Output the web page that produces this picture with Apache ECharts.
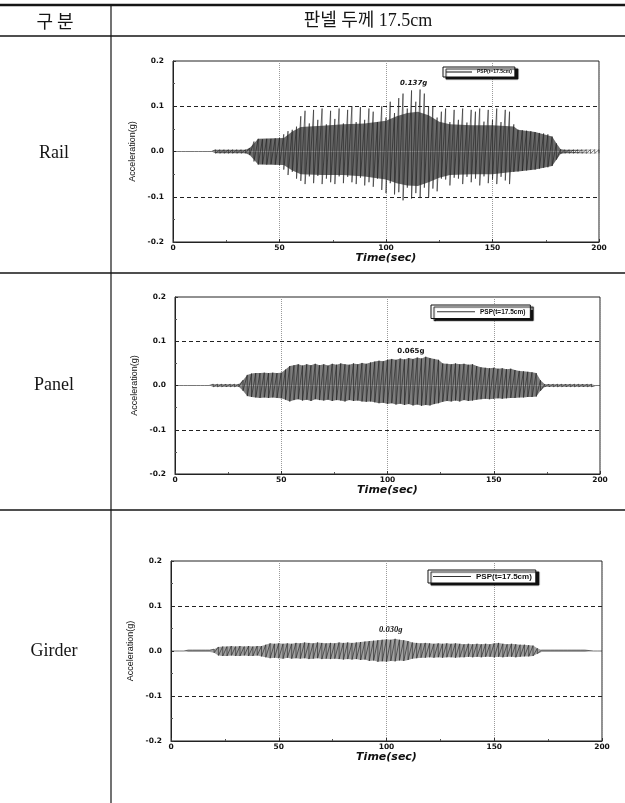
<!DOCTYPE html>
<html>
<head>
<meta charset="utf-8">
<script src="https://cdn.jsdelivr.net/npm/echarts@6/dist/echarts.min.js"></script>
<style>
  html, body { margin: 0; padding: 0; background: #fff; }
  #chart { width: 625px; height: 803px; }
</style>
</head>
<body>
<div id="chart"></div>
<script>
// table text
var headerLeft = "구 분"
var headerRight = "판넬 두께 17.5cm"
var rowNames = ["Rail", "Panel", "Girder"]
var seriesName = "PSP(t=17.5cm)"

// sample times (sec), shared by the three records
var time = [
  0, 2, 4, 6, 8, 10, 12, 14, 16, 18, 20, 22, 24, 26, 28, 30, 32, 34, 36, 38,
  40, 42, 44, 46, 48, 50, 52, 54, 56, 58, 60, 62, 64, 66, 68, 70, 72, 74, 76, 78,
  80, 82, 84, 86, 88, 90, 92, 94, 96, 98, 100, 102, 104, 106, 108, 110, 112, 114, 116, 118,
  120, 122, 124, 126, 128, 130, 132, 134, 136, 138, 140, 142, 144, 146, 148, 150, 152, 154, 156, 158,
  160, 162, 164, 166, 168, 170, 172, 174, 176, 178, 180, 182, 184, 186, 188, 190, 192, 194, 196, 198, 200
]

// peak envelope of the acceleration record (g), upper / lower at each time
var railUpper = [
  0, 0, 0, 0, 0, 0, 0, 0, 0, 0,
  0.004, 0.004, 0.004, 0.004, 0.004, 0.004, 0.004, 0.004,
  0.008, 0.022, 0.028, 0.027, 0.028, 0.028, 0.029, 0.030,
  0.038, 0.045, 0.048, 0.055, 0.078, 0.090, 0.062, 0.092, 0.070, 0.095, 0.060, 0.090, 0.072,
  0.095, 0.062, 0.092, 0.100, 0.065, 0.098, 0.070, 0.095, 0.088, 0.065, 0.100, 0.075,
  0.110, 0.085, 0.118, 0.128, 0.095, 0.135, 0.110, 0.137, 0.128, 0.100, 0.100, 0.075, 0.088, 0.095,
  0.065, 0.092, 0.070, 0.095, 0.064, 0.092, 0.088, 0.095, 0.066, 0.092, 0.070, 0.095, 0.065, 0.092, 0.088,
  0.060, 0.048, 0.047, 0.046, 0.045, 0.043, 0.041, 0.040, 0.038, 0.033, 0.018, 0.005,
  0.004, 0.004, 0.004, 0.004, 0.004, 0.004, 0.004, 0.004, 0.004
]
var railLower = [
  0, 0, 0, 0, 0, 0, 0, 0, 0, 0,
  -0.004, -0.004, -0.004, -0.004, -0.004, -0.004, -0.004, -0.004,
  -0.008, -0.022, -0.029, -0.028, -0.029, -0.028, -0.029, -0.030,
  -0.040, -0.052, -0.045, -0.060, -0.065, -0.072, -0.055, -0.070, -0.054, -0.072, -0.060, -0.068, -0.072,
  -0.055, -0.070, -0.056, -0.068, -0.072, -0.058, -0.075, -0.068, -0.078, -0.060, -0.085, -0.092,
  -0.070, -0.095, -0.090, -0.108, -0.080, -0.104, -0.092, -0.103, -0.080, -0.102, -0.082, -0.088, -0.060, -0.062,
  -0.075, -0.058, -0.060, -0.072, -0.056, -0.068, -0.060, -0.075, -0.055, -0.070, -0.062, -0.072, -0.056, -0.064, -0.072,
  -0.045, -0.044, -0.043, -0.042, -0.041, -0.040, -0.038, -0.036, -0.035, -0.032, -0.018, -0.005,
  -0.004, -0.004, -0.004, -0.004, -0.004, -0.004, -0.004, -0.004, -0.004
]
// dense body of the rail record, under the isolated spikes
var railBodyTime = [0, 18, 20, 34, 36, 40, 52, 56, 60, 70, 80, 90, 100, 105, 110, 115, 120, 125, 130, 140, 150, 160, 162, 170, 178, 180, 182, 184, 200]
var railBodyUpper = [0, 0, 0.004, 0.004, 0.008, 0.028, 0.030, 0.044, 0.054, 0.057, 0.060, 0.062, 0.068, 0.078, 0.085, 0.088, 0.080, 0.066, 0.060, 0.058, 0.058, 0.055, 0.048, 0.043, 0.033, 0.018, 0.005, 0.004, 0.004]
var railBodyLower = [0, 0, -0.004, -0.004, -0.008, -0.029, -0.030, -0.042, -0.050, -0.052, -0.052, -0.055, -0.062, -0.070, -0.075, -0.076, -0.068, -0.058, -0.052, -0.050, -0.050, -0.045, -0.044, -0.040, -0.032, -0.018, -0.005, -0.004, -0.004]

var panelUpper = [
  0, 0, 0, 0, 0, 0, 0, 0, 0,
  0.003, 0.003, 0.003, 0.003, 0.003, 0.003, 0.003,
  0.012, 0.024, 0.027, 0.028, 0.028, 0.029, 0.028, 0.029, 0.028, 0.029,
  0.036, 0.044, 0.046, 0.048, 0.045, 0.048, 0.046, 0.049, 0.046, 0.048,
  0.045, 0.049, 0.047, 0.050, 0.048, 0.047, 0.050, 0.048, 0.051, 0.049,
  0.052, 0.054, 0.056, 0.055, 0.058, 0.060, 0.058, 0.061, 0.059, 0.062,
  0.060, 0.063, 0.061, 0.065, 0.062, 0.060, 0.058, 0.050, 0.049, 0.048,
  0.050, 0.048, 0.049, 0.047, 0.048, 0.044, 0.041, 0.040, 0.039, 0.040,
  0.038, 0.039, 0.037, 0.038, 0.035, 0.033, 0.032, 0.031, 0.030, 0.028,
  0.012,
  0.003, 0.003, 0.003, 0.003, 0.003, 0.003, 0.003, 0.003, 0.003, 0.003, 0.003, 0.003,
  0, 0
]
var panelLower = [
  0, 0, 0, 0, 0, 0, 0, 0, 0,
  -0.003, -0.003, -0.003, -0.003, -0.003, -0.003, -0.003,
  -0.012, -0.024, -0.026, -0.027, -0.028, -0.027, -0.028, -0.027, -0.028, -0.029,
  -0.032, -0.036, -0.033, -0.031, -0.034, -0.032, -0.035, -0.031, -0.033, -0.034,
  -0.032, -0.035, -0.033, -0.034, -0.036, -0.033, -0.035, -0.034, -0.036, -0.037,
  -0.036, -0.038, -0.040, -0.039, -0.042, -0.040, -0.043, -0.041, -0.044, -0.042,
  -0.045, -0.043, -0.046, -0.044, -0.045, -0.042, -0.040, -0.037, -0.035, -0.036,
  -0.034, -0.036, -0.033, -0.035, -0.034, -0.032, -0.031, -0.030, -0.031, -0.030,
  -0.029, -0.030, -0.029, -0.028, -0.028, -0.027, -0.027, -0.026, -0.026, -0.025,
  -0.012,
  -0.003, -0.003, -0.003, -0.003, -0.003, -0.003, -0.003, -0.003, -0.003, -0.003, -0.003, -0.003,
  0, 0
]

var girderUpper = [
  0, 0, 0, 0,
  0.002, 0.002, 0.002, 0.002, 0.002, 0.002,
  0.004, 0.009, 0.010, 0.010, 0.011, 0.010, 0.011, 0.010, 0.011, 0.010,
  0.011, 0.011, 0.014, 0.017, 0.016, 0.017, 0.016, 0.017, 0.016, 0.018,
  0.017, 0.019, 0.018, 0.017, 0.019, 0.018, 0.017, 0.018, 0.017, 0.019,
  0.018, 0.019, 0.018, 0.019, 0.020, 0.021, 0.022, 0.023, 0.024, 0.025,
  0.026, 0.025, 0.027, 0.025, 0.024, 0.022, 0.019, 0.018, 0.017, 0.018,
  0.017, 0.016, 0.017, 0.016, 0.017, 0.016, 0.017, 0.016, 0.015, 0.016,
  0.015, 0.016, 0.015, 0.016, 0.015, 0.017, 0.018, 0.016, 0.015, 0.016,
  0.015, 0.014, 0.014, 0.013, 0.012, 0.006,
  0.002,
  0.002, 0.002, 0.002, 0.002, 0.002, 0.002, 0.002, 0.002, 0.002, 0.002,
  0.001, 0, 0, 0
]
var girderLower = [
  0, 0, 0, 0,
  -0.002, -0.002, -0.002, -0.002, -0.002, -0.002,
  -0.004, -0.010, -0.011, -0.011, -0.010, -0.011, -0.011, -0.010, -0.011, -0.011,
  -0.010, -0.012, -0.014, -0.016, -0.015, -0.016, -0.017, -0.015, -0.017, -0.016,
  -0.017, -0.016, -0.018, -0.017, -0.016, -0.018, -0.017, -0.018, -0.017, -0.018,
  -0.019, -0.018, -0.019, -0.018, -0.020, -0.019, -0.022, -0.021, -0.024, -0.023,
  -0.024, -0.022, -0.023, -0.021, -0.022, -0.020, -0.017, -0.016, -0.015, -0.015,
  -0.014, -0.015, -0.014, -0.015, -0.014, -0.014, -0.015, -0.014, -0.014, -0.013,
  -0.014, -0.013, -0.014, -0.013, -0.013, -0.014, -0.013, -0.014, -0.013, -0.013,
  -0.014, -0.013, -0.012, -0.012, -0.011, -0.006,
  -0.002,
  -0.002, -0.002, -0.002, -0.002, -0.002, -0.002, -0.002, -0.002, -0.002, -0.002,
  -0.001, 0, 0, 0
]

// peak annotations: text and where it sits [time, g]
var peakText = ["0.137g", "0.065g", "0.030g"]
var peakAt = [[113, 0.150], [111, 0.077], [102, 0.048]]

var uppers = [railUpper, panelUpper, girderUpper]
var lowers = [railLower, panelLower, girderLower]
var bodies = [
  { t: railBodyTime, up: railBodyUpper, lo: railBodyLower },
  { t: time, up: panelUpper, lo: panelLower },
  { t: time, up: girderUpper, lo: girderLower }
]

// layout of the three plots and their legend boxes
var grids = [
  { left: 173, top: 61, width: 426, height: 181 },
  { left: 175, top: 297, width: 425, height: 177 },
  { left: 171, top: 561, width: 431, height: 180 }
]
var legends = [
  { left: 443, top: 67, itemWidth: 26, fontSize: 5, padding: [2, 3, 2, 3] },
  { left: 431, top: 305, itemWidth: 38, fontSize: 6.5, padding: [3, 5, 3, 6] },
  { left: 428, top: 570, itemWidth: 38, fontSize: 8, padding: [2, 4, 2, 5] }
]
var bandColors = ["#6a6a6a", "#7d7d7d", "#a0a0a0"]

var chartDom = document.getElementById("chart")
var chart = echarts.init(chartDom, null, { renderer: "canvas" })

var boldNum = { fontSize: 7.5, fontWeight: "bold", fontFamily: "DejaVu Sans", color: "#111" }

function pairs(ts, values) {
  return ts.map(function (t, i) {
    return [t, values[i]]
  })
}

function zigzag(k) {
  var pts = []
  for (var i = 0; i < time.length; i++) {
    pts.push([time[i], uppers[k][i]])
    pts.push([time[i], lowers[k][i]])
  }
  return pts
}

function getAxes() {
  var xAxes = []
  var yAxes = []
  for (var k = 0; k < 3; k++) {
    xAxes.push({
      gridIndex: k,
      type: "value",
      min: 0,
      max: 200,
      interval: 50,
      name: "Time(sec)",
      nameLocation: "middle",
      nameGap: 9,
      nameTextStyle: {
        fontSize: 11,
        fontWeight: "bold",
        fontStyle: "italic",
        fontFamily: "DejaVu Sans",
        color: "#111",
      },
      axisLine: { onZero: false, lineStyle: { color: "#222", width: 1 } },
      axisTick: { inside: true, length: 3, lineStyle: { color: "#333" } },
      minorTick: { show: true, splitNumber: 2, length: 2, lineStyle: { color: "#555" } },
      axisLabel: Object.assign({ margin: 2 }, boldNum),
      splitLine: { show: true, lineStyle: { type: "dotted", color: "#9a9a9a", width: 1 } },
    })
    yAxes.push({
      gridIndex: k,
      type: "value",
      min: -0.2,
      max: 0.2,
      interval: 0.1,
      name: "Acceleration(g)",
      nameLocation: "middle",
      nameRotate: 90,
      nameGap: k === 2 ? 32 : 34,
      nameTextStyle: { fontSize: 9, fontFamily: "Liberation Sans", color: "#111" },
      axisLine: { onZero: false, lineStyle: { color: "#222", width: 1 } },
      axisTick: { inside: true, length: 3, lineStyle: { color: "#333" } },
      minorTick: { show: true, splitNumber: 2, length: 2, lineStyle: { color: "#555" } },
      axisLabel: Object.assign(
        {
          margin: 9,
          formatter: function (v) {
            return v.toFixed(1)
          },
        },
        boldNum
      ),
      splitLine: { show: false },
    })
  }
  return { x: xAxes, y: yAxes }
}

function getSeries() {
  var series = []
  for (var k = 0; k < 3; k++) {
    // filled body: upper half and lower half, each shaded to the zero line
    var b = bodies[k]
    var halves = [b.up, b.lo]
    for (var h = 0; h < 2; h++) {
      series.push({
        type: "line",
        xAxisIndex: k,
        yAxisIndex: k,
        data: pairs(b.t, halves[h]),
        symbol: "none",
        silent: true,
        lineStyle: { opacity: 0 },
        areaStyle: { color: bandColors[k], opacity: 1, origin: 0 },
      })
    }
    series.push({
      name: seriesName,
      type: "line",
      xAxisIndex: k,
      yAxisIndex: k,
      data: zigzag(k),
      symbol: "none",
      lineStyle: { color: "#1c1c1c", width: 0.6 },
      markLine: {
        silent: true,
        symbol: "none",
        label: { show: false },
        lineStyle: { color: "#222", type: [4, 3], width: 1 },
        data: [{ yAxis: 0.1 }, { yAxis: -0.1 }],
      },
      markPoint: {
        silent: true,
        symbol: "circle",
        symbolSize: 1,
        itemStyle: { color: "rgba(0,0,0,0)" },
        label: {
          show: true,
          position: "inside",
          formatter: peakText[k],
          color: "#111",
          fontSize: k === 2 ? 8.5 : 7,
          fontWeight: "bold",
          fontStyle: k === 1 ? "normal" : "italic",
          fontFamily: k === 2 ? "Liberation Serif" : "DejaVu Sans",
        },
        data: [{ coord: peakAt[k] }],
      },
    })
  }
  return series
}

function getLegends() {
  var out = []
  for (var k = 0; k < 3; k++) {
    var L = legends[k]
    out.push({
      data: [seriesName],
      left: L.left,
      top: L.top,
      orient: "horizontal",
      icon: "rect",
      itemWidth: L.itemWidth,
      itemHeight: 1.2,
      itemGap: 4,
      padding: L.padding,
      backgroundColor: "#fff",
      borderColor: "#111",
      borderWidth: 1,
      borderRadius: 0,
      shadowColor: "#111",
      shadowBlur: 1,
      shadowOffsetX: 3,
      shadowOffsetY: 2,
      selectedMode: false,
      itemStyle: { color: "#333" },
      textStyle: {
        fontSize: L.fontSize,
        fontWeight: "bold",
        fontFamily: "Liberation Sans",
        color: "#111",
        lineHeight: L.fontSize + 1,
      },
    })
  }
  return out
}

function getTable() {
  var ink = "#151515"
  var cellFont = '18px "Liberation Serif", "Noto Sans CJK KR", serif'
  var items = [
    { type: "line", shape: { x1: 0, y1: 5, x2: 625, y2: 5 }, style: { stroke: ink, lineWidth: 2.5 } },
    { type: "line", shape: { x1: 0, y1: 36, x2: 625, y2: 36 }, style: { stroke: ink, lineWidth: 1.5 } },
    { type: "line", shape: { x1: 111, y1: 5, x2: 111, y2: 803 }, style: { stroke: ink, lineWidth: 1.2 } },
    { type: "line", shape: { x1: 0, y1: 273, x2: 625, y2: 273 }, style: { stroke: ink, lineWidth: 1.5 } },
    { type: "line", shape: { x1: 0, y1: 510, x2: 625, y2: 510 }, style: { stroke: ink, lineWidth: 1.5 } },
    {
      type: "text",
      x: 55,
      y: 21,
      style: { text: headerLeft, font: '18px "Noto Sans CJK KR", sans-serif', fill: ink, align: "center", verticalAlign: "middle" },
    },
    {
      type: "text",
      x: 368,
      y: 21,
      style: { text: headerRight, font: cellFont, fill: ink, align: "center", verticalAlign: "middle" },
    },
  ]
  var rowY = [153, 385, 651]
  for (var k = 0; k < 3; k++) {
    items.push({
      type: "text",
      x: 54,
      y: rowY[k],
      style: { text: rowNames[k], font: cellFont, fill: ink, align: "center", verticalAlign: "middle" },
    })
  }
  return items
}

var axes = getAxes()
var option = {
  animation: false,
  backgroundColor: "#fff",
  grid: grids.map(function (g) {
    return Object.assign({ show: true, borderColor: "#222", borderWidth: 1, backgroundColor: "rgba(0,0,0,0)" }, g)
  }),
  xAxis: axes.x,
  yAxis: axes.y,
  legend: getLegends(),
  series: getSeries(),
  graphic: { elements: getTable() },
}

if (option && typeof option === "object") {
  chart.setOption(option)
}
</script>
</body>
</html>
